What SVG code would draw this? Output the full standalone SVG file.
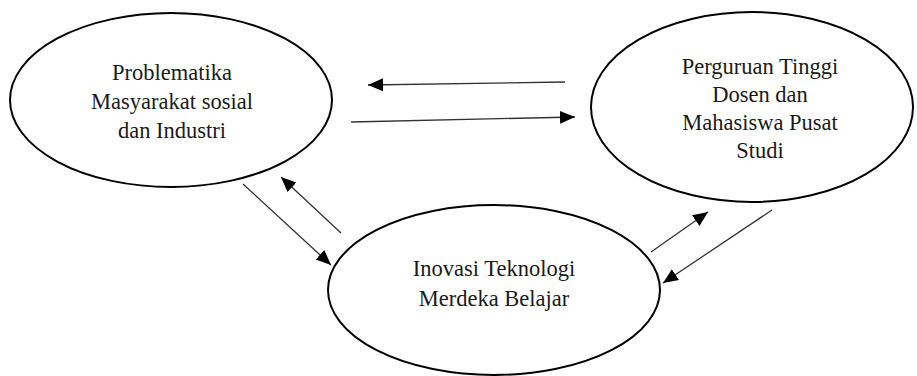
<svg xmlns="http://www.w3.org/2000/svg" width="917" height="376" viewBox="0 0 917 376">
<style>
.node ellipse{fill:#fff;stroke:#000;stroke-width:2}
.node text{font-family:"Liberation Serif","Times New Roman",serif;font-size:22.5px;fill:#1a1a1a;text-anchor:middle}
.conn line{stroke:#333;stroke-width:1.3;marker-end:url(#ah)}
</style>
<defs>
<marker id="ah" markerUnits="userSpaceOnUse" markerWidth="16" markerHeight="14" refX="15" refY="6.5" orient="auto">
<path d="M0,0 L15,6.5 L0,13 Z" fill="#000"/>
</marker>
</defs>
<rect width="917" height="376" fill="#fff"/>
<g id="node-problematika" class="node">
<ellipse cx="171" cy="100" rx="161" ry="87"/>
<text x="172" y="80">Problematika</text>
<text x="172" y="109">Masyarakat sosial</text>
<text x="172" y="138">dan Industri</text>
</g>
<g id="node-perguruan" class="node">
<ellipse cx="752" cy="107" rx="161" ry="95"/>
<text x="760" y="74">Perguruan Tinggi</text>
<text x="760" y="102">Dosen dan</text>
<text x="760" y="130">Mahasiswa Pusat</text>
<text x="760" y="158">Studi</text>
</g>
<g id="node-inovasi" class="node">
<ellipse cx="494" cy="290" rx="166" ry="85"/>
<text x="494" y="276">Inovasi Teknologi</text>
<text x="494" y="306">Merdeka Belajar</text>
</g>
<g id="connectors" class="conn">
<line x1="565" y1="82" x2="368" y2="85"/>
<line x1="351" y1="122" x2="575" y2="117"/>
<line x1="243" y1="184" x2="331" y2="265"/>
<line x1="341" y1="233" x2="281" y2="177"/>
<line x1="651" y1="252" x2="708" y2="212"/>
<line x1="772" y1="210" x2="663" y2="283"/>
</g>
</svg>
